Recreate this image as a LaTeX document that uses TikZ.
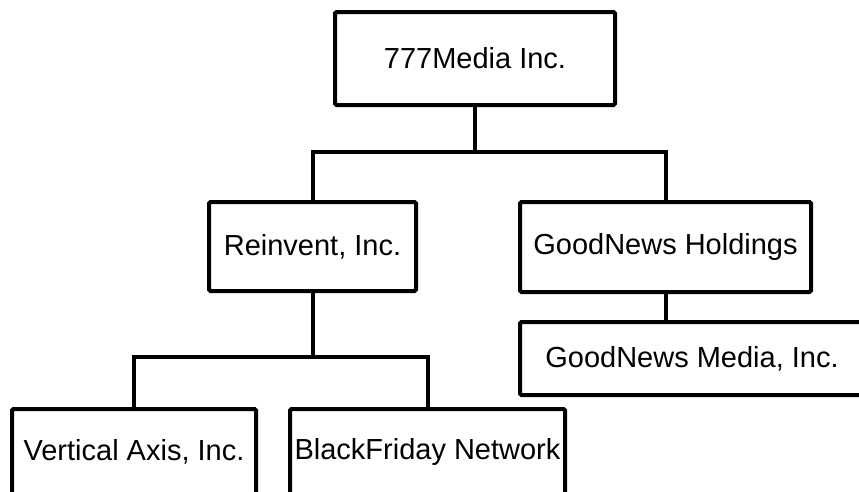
\documentclass[tikz,border=0pt]{standalone}
\usepackage{fontspec}
\setmainfont{Liberation Sans}
\usetikzlibrary{calc}
\tikzset{orgbox/.style={draw, line width=4pt, rounded corners=1.5pt, inner sep=0pt, align=center},
  orglink/.style={line width=4pt}}

\begin{document}
\begin{tikzpicture}[x=1pt, y=-1pt, font=\fontsize{29}{34}\selectfont]
  \useasboundingbox (0,0) rectangle (859,491);
  \clip (0,0) rectangle (859,491);
  % boxes: name / centre x / centre y / width / height / text
  \foreach \nm/\xx/\yy/\ww/\hh/\txt in {
    top/475/58.5/280/93/{777Media Inc.},
    reinv/312.5/246.5/207/89/{Reinvent, Inc.},
    gnh/665.5/247/291/90/{GoodNews Holdings},
    gnm/692/358.5/344/73/{GoodNews Media, Inc.},
    vaxis/134/452/244/86/{Vertical Axis, Inc.},
    bfri/427.5/452/275/86/{BlackFriday Network}}
  { \node[orgbox, minimum width=\ww pt, minimum height=\hh pt] (\nm) at (\xx,\yy) {\txt}; }
  \coordinate (topsplit) at (475,152);
  \coordinate (reinvsplit) at (312.5,357);
  \draw[orglink] (top.south) -- (topsplit);
  \draw[orglink] (reinv.north) |- (topsplit) -| (gnh.north);
  \draw[orglink] (reinv.south) -- (reinvsplit);
  \draw[orglink] (vaxis.north) |- (reinvsplit) -| (bfri.north);
  \draw[orglink] (gnh.south) -- (gnh.south |- gnm.north);
\end{tikzpicture}
\end{document}
